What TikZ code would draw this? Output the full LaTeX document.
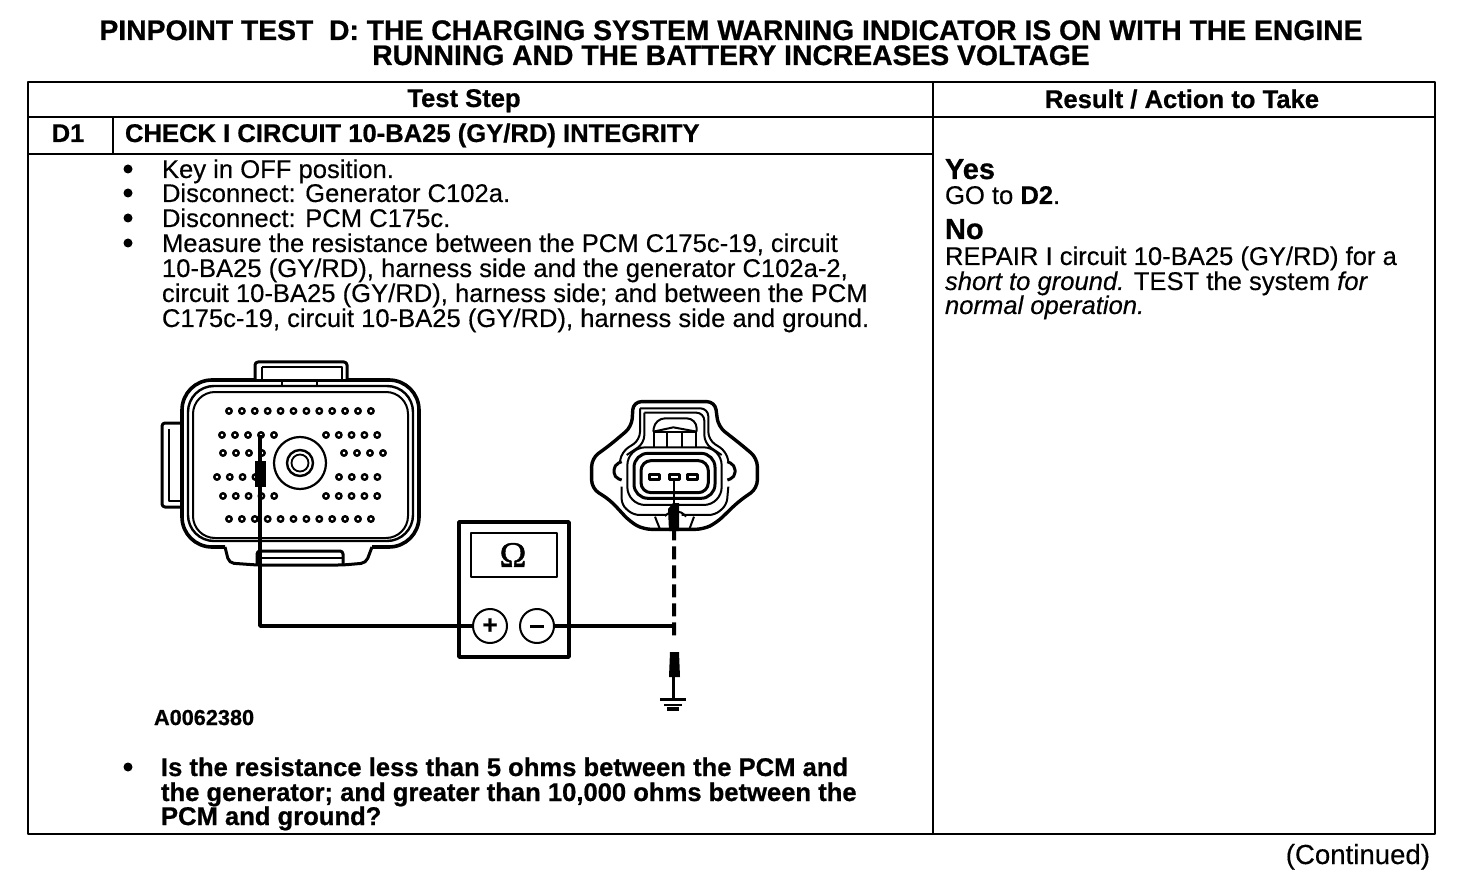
\documentclass[tikz,border=0pt]{standalone}
\usepackage{fontspec}
\setmainfont[FakeBold=0.3,BoldFeatures={FakeBold=0.7}]{Liberation Sans}
\newfontfamily\omfont[FakeBold=1.2]{Liberation Serif}
\begin{document}
\begin{tikzpicture}[x=1pt,y=-1pt,line join=round,
  txt/.style={anchor=base west,inner sep=0pt,outer sep=0pt,font=\fontsize{25.6}{25}\selectfont},
  btxt/.style={txt,font=\fontsize{25.6}{25}\bfseries\selectfont},
  ttl/.style={anchor=base,inner sep=0pt,outer sep=0pt,font=\fontsize{28.3}{25}\bfseries\selectfont},
  rule/.style={line width=2.4pt},
  wire/.style={line width=3.6pt},
  outl/.style={line width=3pt},
  thinl/.style={line width=2pt},
  bul/.style={circle,fill=black,inner sep=0pt,minimum size=9pt},
  pin/.style={circle,draw=black,line width=2.4pt,inner sep=0pt,minimum size=5.5pt}]
\useasboundingbox (0,0) rectangle (1472,890);
% title
\node[ttl] (t1) at (731,40) {PINPOINT TEST\ \ D: THE CHARGING SYSTEM WARNING INDICATOR IS ON WITH THE ENGINE};
\node[ttl] (t2) at (731,65) {RUNNING AND THE BATTERY INCREASES VOLTAGE};
% table
\draw[rule] (28,82) rectangle (1435,834);
\draw[rule] (933,82) -- (933,834);
\draw[rule] (28,117) -- (1435,117);
\draw[rule] (28,154) -- (933,154);
\draw[rule] (113,117) -- (113,154);
\node[btxt,anchor=base] (h1) at (464,107) {Test Step};
\node[btxt,anchor=base] (h2) at (1182,108) {Result / Action to Take};
\node[btxt,anchor=base] (d1) at (68,142) {D1};
\node[btxt] (d1t) at (125,142) {CHECK I CIRCUIT 10-BA25 (GY/RD) INTEGRITY};
% steps
\foreach \n/\y in {a/169,b/193,c/218,d/243,e/767}{\node[bul] (b\n) at (128,\y) {};}
\node[txt] (s1) at (162,178) {Key in OFF position.};
\node[txt] (s2) at (162,202) {Disconnect: Generator C102a.};
\node[txt] (s3) at (162,227) {Disconnect: PCM C175c.};
\node[txt] (s4) at (162,252) {Measure the resistance between the PCM C175c-19, circuit};
\node[txt] (s5) at (162,277) {10-BA25 (GY/RD), harness side and the generator C102a-2,};
\node[txt] (s6) at (162,302) {circuit 10-BA25 (GY/RD), harness side; and between the PCM};
\node[txt] (s7) at (162,327) {C175c-19, circuit 10-BA25 (GY/RD), harness side and ground.};
\node[btxt] (q1) at (161,776) {Is the resistance less than 5 ohms between the PCM and};
\node[btxt] (q2) at (161,801) {the generator; and greater than 10,000 ohms between the};
\node[btxt] (q3) at (161,825) {PCM and ground?};
\node[txt,font=\fontsize{21.7}{20}\bfseries\selectfont] (code) at (154,725) {A0062380};
% result
\node[txt,font=\fontsize{29}{27}\bfseries\selectfont] (yes) at (945,179) {Yes};
\node[txt] (r1) at (945,204) {GO to \textbf{D2}.};
\node[txt,font=\fontsize{29}{27}\bfseries\selectfont] (no) at (945,239) {No};
\node[txt] (r2) at (945,265) {REPAIR I circuit 10-BA25 (GY/RD) for a};
\node[txt] (r3) at (945,290) {\itshape short to ground.\upshape{} TEST the system \itshape for};
\node[txt] (r4) at (945,314) {\itshape normal operation.};
\node[txt,anchor=base east,font=\fontsize{27.6}{25}\selectfont] (cont) at (1430,864) {(Continued)};
% PCM connector
\draw[outl,rounded corners=3pt] (255,380)--(255,362)--(347,362)--(347,380);
\draw[rounded corners=30pt,line width=3.6pt] (255,380)--(182,380)--(182,547)--(225,547);
\draw[rounded corners=30pt,line width=3.6pt] (347,380)--(419,380)--(419,547)--(372,547);
\draw[line width=3pt] (255,380)--(347,380);
\draw[line width=2.4pt,rounded corners=26pt] (188,386)--(188,541)--(413,541)--(413,386)--cycle;
\draw[thinl,rounded corners=22pt] (193,392)--(193,538)--(408,538)--(408,392)--cycle;
\draw[outl,rounded corners=3pt] (182,423)--(162,423)--(162,507)--(182,507);
\draw[thinl] (169,429)--(169,501)--(180,501);
\draw[thinl] (262,367)--(262,379);
\draw[thinl] (262,367)--(342,367)--(342,379);
\draw[thinl] (282,380)--(282,386) (317,380)--(317,386);
\draw[outl,rounded corners=5pt] (225,547)--(229,563)--(257,565)--(343,565)--(366,563)--(372,547);
\draw[outl,rounded corners=3pt] (257,565)--(257,551)--(343,551)--(343,565);
\draw[line width=1.6pt] (257,558)--(343,558);
\foreach \i in {0,...,11}{\node[pin] (pa\i) at ({229+\i*12.9},411) {}; \node[pin] (pf\i) at ({229+\i*12.9},519) {};}
\foreach \i in {0,...,4}{\node[pin] (pb\i) at ({222+\i*13},435) {}; \node[pin] (pc\i) at ({326+\i*12.8},435) {};
  \node[pin] (pd\i) at ({223+\i*12.8},496) {}; \node[pin] (pe\i) at ({326+\i*12.8},496) {};}
\foreach \i in {0,...,3}{\node[pin] (pg\i) at ({223+\i*13},453) {}; \node[pin] (ph\i) at ({344+\i*13},453) {};
  \node[pin] (pi\i) at ({217+\i*12.8},477) {}; \node[pin] (pj\i) at ({339+\i*12.8},477) {};}
\node[circle,draw,line width=2.2pt,inner sep=0pt,minimum size=52pt] (hub) at (300,463) {};
\node[circle,draw,line width=2.4pt,inner sep=0pt,minimum size=26pt] (hub2) at (300,463) {};
\node[circle,draw,line width=1.8pt,inner sep=0pt,minimum size=17pt] (hub3) at (300,463) {};
% Generator connector
\begin{scope}[shift={(440,390)},x=.33333pt,y=-.33333pt]
\draw[line width=3.4pt,rounded corners=8pt] (580,35)--(825,35)--(835,110)--(905,165)--(952,205)--(952,295)--(895,335)--(830,398)--(790,418)--(610,418)--(570,395)--(510,330)--(455,295)--(455,205)--(510,165)--(575,110)--cycle;
\draw[thinl,rounded corners=8pt] (600,55)--(805,55)--(805,150)--(860,185)--(865,215);
\draw[thinl,rounded corners=8pt] (600,55)--(600,150)--(545,185)--(540,215);
\draw[thinl,rounded corners=8pt] (613,68)--(793,68)--(793,160)--(845,195);
\draw[thinl,rounded corners=8pt] (613,68)--(613,160)--(560,195);
\draw[thinl,rounded corners=10pt] (640,125)--(645,85)--(770,85)--(770,125);
\draw[thinl] (640,125)--(700,112)--(770,125);
\draw[thinl] (640,125)--(770,125);
\foreach \q in {642,682,725,768}{\draw[thinl] (\q,125)--(\q,170);}
\draw[outl,rounded corners=14pt] (582,190)--(825,190)--(825,325)--(582,325)--cycle;
\draw[outl,rounded corners=10pt] (603,212)--(805,212)--(805,308)--(603,308)--cycle;
\draw[thinl,rounded corners=18pt] (562,172)--(845,172)--(845,345)--(562,345)--cycle;
\draw[thinl,rounded corners=6pt] (545,290)--(545,345)--(580,375)--(680,375);
\draw[thinl,rounded corners=6pt] (865,290)--(860,345)--(825,375)--(725,375);
\draw[outl,rounded corners=5pt] (545,215)--(522,225)--(522,262)--(545,270);
\draw[outl,rounded corners=5pt] (862,215)--(885,225)--(885,262)--(862,270);
\draw[thinl] (645,380)--(660,418) (762,380)--(748,418);
\draw[thinl,rounded corners=4pt] (675,378)--(690,365)--(725,365)--(738,380);
\foreach \q in {643,702,758}{\draw[outl] (\q-15,254) rectangle (\q+15,268);}
\coordinate (gpin) at (702,268);
\coordinate (gt) at (702,340);
\coordinate (gb) at (702,412);
\coordinate (gd) at (702,708);
\coordinate (lp) at (700,785);
\coordinate (lb) at (700,860);
\coordinate (gnd) at (700,928);
\coordinate (gnd2) at (700,945);
\coordinate (gnd3) at (700,966);
\end{scope}
\draw[line width=2.8pt] (gpin)--(gt);
\fill (668,509) -- (673,503) -- (679,503) -- (679,531) -- (669,531) -- cycle;
\draw[line width=4pt,dash pattern=on 13pt off 6pt] (gb)--(674,640);
% meter
\draw[line width=3.4pt] (459,522) rectangle (569,657);
\node[draw,line width=2.4pt,minimum width=86pt,minimum height=44pt,inner sep=0pt] (disp) at (514,555) {};
\node[inner sep=0pt,font=\omfont\fontsize{36}{36}\selectfont] (om) at (513,555) {Ω};
\node[circle,draw,line width=2pt,fill=white,minimum size=34pt,inner sep=0pt,font=\fontsize{26}{26}\bfseries\selectfont] (plus) at (490,626) {+};
\node[circle,draw,line width=2pt,fill=white,minimum size=34pt,inner sep=0pt] (minus) at (537,626) {};
\coordinate (mL) at (530,626);
\coordinate (mR) at (544,626);
\draw[line width=3pt] (mL)--(mR);
% wires
\coordinate (ptop) at (260,435);
\coordinate (pcorner) at (260,626);
\draw[wire] (ptop)--(pcorner)--(plus);
\fill[black] (255,461) rectangle (266,487);
\draw[wire] (minus)--(gd);
\fill (670,652) -- (679,652) -- (680,677) -- (669,677) -- cycle;
\draw[line width=2.8pt] (lb)--(gnd);
\draw[line width=2.8pt] (gnd) ++(-13,0) -- ++(26,0);
\draw[line width=2.8pt] (gnd2) ++(-9,0) -- ++(18,0);
\draw[line width=3.5pt] (gnd3) ++(-6,-3) -- ++(12,0);
\end{tikzpicture}
\end{document}
